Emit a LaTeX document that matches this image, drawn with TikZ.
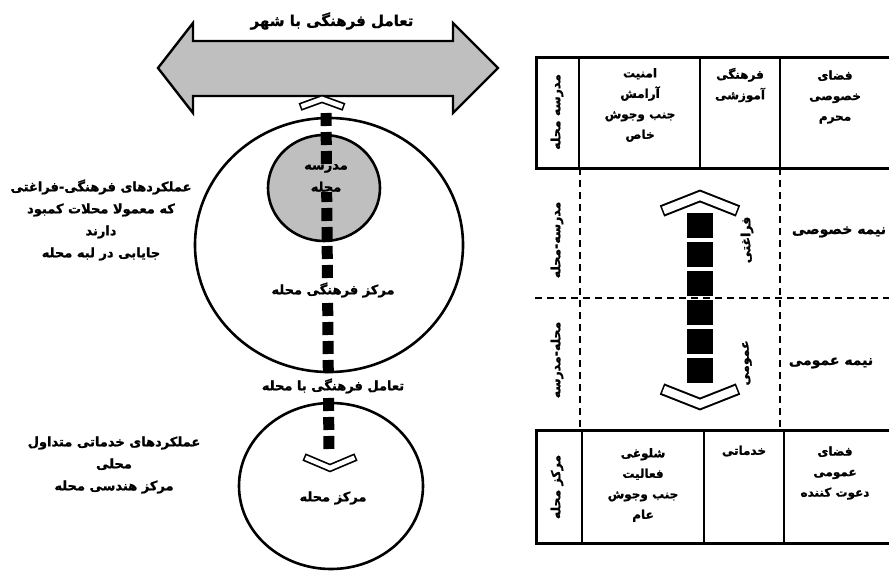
\documentclass[tikz,border=0pt]{standalone}
\usepackage{fontspec}
\usepackage{tikz}
\usetikzlibrary{shapes.geometric, positioning}
\newfontfamily\arabicfont[Script=Arabic, BoldFeatures={FakeBold=1.2}]{DejaVu Sans}
\TeXXeTstate=1
\newcommand{\ptxt}[1]{{\arabicfont\bfseries\beginR #1\endR}}

\begin{document}
\begin{tikzpicture}[x=1pt, y=-1pt,
        lbl/.style={font=\fontsize{13}{22}\selectfont, align=center, inner sep=1pt},
        cell/.style={font=\fontsize{12}{20.5}\selectfont, align=center, inner sep=1pt},
        small/.style={font=\fontsize{12.5}{20}\selectfont, align=center, inner sep=1pt},
        ring/.style={ellipse, draw, line width=2.6pt, inner sep=0pt},
        frame/.style={line width=3pt},
        cellline/.style={line width=2.4pt},
        guide/.style={line width=1.8pt, dash pattern=on 7pt off 5pt},
        squarebar/.style={line width=#1, dash pattern=on 13pt off 6pt},
        chevout/.style={line width=#1, line join=miter},
        chevin/.style={line width=#1, white, line join=miter, shorten <=1.6pt, shorten >=1.6pt}
    ]
        \useasboundingbox (0,0) rectangle (889,574);

        % City arrow
        \draw[line width=2.4pt, fill=gray!50, line join=miter]
            (158,68) -- (193,23) -- (193,41) -- (453,41) -- (453,23) -- (498,68)
            -- (453,113) -- (453,96) -- (193,96) -- (193,113) -- cycle;
        \node[lbl, font=\fontsize{15}{18}\selectfont] (citytitle) at (332,21) {\ptxt{تعامل فرهنگی با شهر}};

        % Circles
        \node[ring, minimum width=268pt, minimum height=254pt] (culture) at (329,245) {};
        \node[ring, fill=gray!50, minimum width=112pt, minimum height=106pt] (school) at (324,188) {};
        \node[ring, minimum width=184pt, minimum height=166pt] (centre) at (331,486) {};

        % Bar and chevrons
        \coordinate (bartop) at (326,113);
        \coordinate (barbot) at (329,453);
        \draw[squarebar=11pt] (bartop) -- (barbot);
        \draw[chevout=8pt] (300,107) -- (322,99) -- (344,107);
        \draw[chevin=4.6pt] (300,107) -- (322,99) -- (344,107);
        \draw[chevout=8pt] (304,457) -- (330,468) -- (356,457);
        \draw[chevin=4.6pt] (304,457) -- (330,468) -- (356,457);

        % Circle texts
        \node[lbl, fill=gray!50, inner sep=0pt] (schooltxt) at (326,178) {\ptxt{مدرسه}\\\ptxt{محله}};
        \node[lbl, fill=white] (culturetxt) at (333,290) {\ptxt{مرکز فرهنگی محله}};
        \node[lbl, fill=white] (linktxt) at (333,386) {\ptxt{تعامل فرهنگی با محله}};
        \node[lbl] (centretxt) at (333,498) {\ptxt{مرکز محله}};
        \node[lbl] (edgetxt) at (101,220) {\ptxt{عملکردهای فرهنگی-فراغتی}\\\ptxt{که معمولا محلات کمبود}\\\ptxt{دارند}\\\ptxt{جایابی در لبه محله}};
        \node[lbl] (servtxt) at (114,465) {\ptxt{عملکردهای خدماتی متداول}\\\ptxt{محلی}\\\ptxt{مرکز هندسی محله}};

        % Table
        \draw[frame] (536,57) rectangle (895,168);
        \draw[cellline] (579,57) -- (579,168);
        \draw[cellline] (700,57) -- (700,168);
        \draw[cellline] (780,57) -- (780,168);
        \draw[frame] (536,430) rectangle (895,543);
        \draw[cellline] (582,430) -- (582,543);
        \draw[cellline] (704,430) -- (704,543);
        \draw[cellline] (784,430) -- (784,543);
        \draw[guide] (580,168) -- (580,430);
        \draw[guide] (780,168) -- (780,430);
        \draw[guide, line width=1.2pt] (535,298) -- (889,298);

        \node[small, rotate=90] (c1top) at (557,112) {\ptxt{مدرسه محله}};
        \node[cell] (c2top) at (640,105) {\ptxt{امنیت}\\\ptxt{آرامش}\\\ptxt{جنب وجوش}\\\ptxt{خاص}};
        \node[cell] (c3top) at (740,85) {\ptxt{فرهنگی}\\\ptxt{آموزشی}};
        \node[cell] (c4top) at (835,97) {\ptxt{فضای}\\\ptxt{خصوصی}\\\ptxt{محرم}};
        \node[small, rotate=90] (c1bot) at (557,487) {\ptxt{مرکز محله}};
        \node[cell] (c2bot) at (643,485) {\ptxt{شلوغی}\\\ptxt{فعالیت}\\\ptxt{جنب وجوش}\\\ptxt{عام}};
        \node[cell] (c3bot) at (744,451) {\ptxt{خدماتی}};
        \node[cell] (c4bot) at (835,473) {\ptxt{فضای}\\\ptxt{عمومی}\\\ptxt{دعوت کننده}};

        \node[small, rotate=90] (upperside) at (557,240) {\ptxt{مدرسه-محله}};
        \node[small, rotate=90] (lowerside) at (557,360) {\ptxt{محله-مدرسه}};
        \node[lbl, font=\fontsize{14}{18}\selectfont] (semipriv) at (839,232) {\ptxt{نیمه خصوصی}};
        \node[lbl, font=\fontsize{14}{18}\selectfont] (semipub) at (831,363) {\ptxt{نیمه عمومی}};
        \node[small, rotate=90] (leisure) at (747,240) {\ptxt{فراغتی}};
        \node[small, rotate=90] (public) at (747,363) {\ptxt{عمومی}};

        % Gradient bar
        \coordinate (gradtop) at (700,213);
        \coordinate (gradbot) at (700,384);
        \draw[line width=26pt, dash pattern=on 25pt off 4pt] (gradtop) -- (gradbot);
        \draw[chevout=12pt] (662,211) -- (700,196) -- (738,211);
        \draw[chevin=8pt] (662,211) -- (700,196) -- (738,211);
        \draw[chevout=12pt] (662,389) -- (700,404) -- (738,389);
        \draw[chevin=8pt] (662,389) -- (700,404) -- (738,389);
    \end{tikzpicture}
\end{document}
